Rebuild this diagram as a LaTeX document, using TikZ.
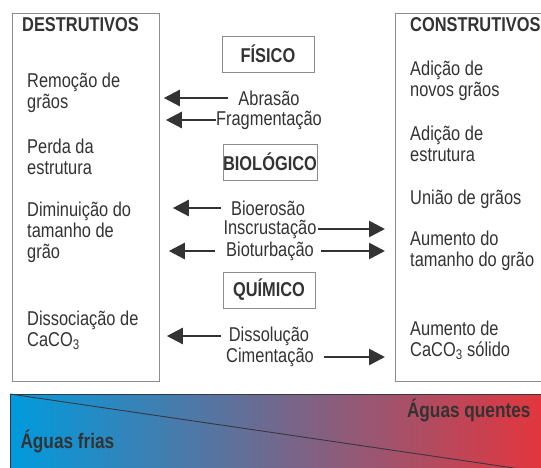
\documentclass[tikz,border=0pt]{standalone}
\usepackage{fontspec}
\setmainfont{Liberation Sans}[FakeStretch=0.82]
\usetikzlibrary{arrows.meta,positioning}
\definecolor{ink}{RGB}{51,51,51}
\definecolor{frame}{RGB}{140,140,140}
\definecolor{cold}{RGB}{0,155,222}
\definecolor{warm}{RGB}{234,50,56}
\definecolor{barline}{RGB}{55,55,65}

\tikzset{
  bigbox/.style={draw=frame,line width=0.8pt,inner sep=0pt},
  catbox/.style={draw=frame,line width=0.8pt,font=\fontsize{20}{21}\selectfont\bfseries,
    minimum width=92pt,minimum height=36pt,inner sep=0pt},
  txt/.style={align=left,anchor=west,inner sep=0pt},
  proc/.style={inner sep=0pt},
  arr/.style={draw=ink,line width=2.5pt,-{Triangle[length=16pt,width=16pt]}},
}

\begin{document}
\begin{tikzpicture}[x=1pt,y=-1pt,font=\fontsize{20}{21}\selectfont,text=ink]
\useasboundingbox (0,0) rectangle (541,468);
% the two columns
\node[bigbox,anchor=north west,minimum width=147pt,minimum height=368pt] (dest) at (12,13) {};
\node[bigbox,anchor=north west,minimum width=170pt,minimum height=368pt] (cons) at (395,13) {};
\node[txt,font=\fontsize{20}{21}\selectfont\bfseries] (desth) at (22,25) {DESTRUTIVOS};
\node[txt,font=\fontsize{20}{21}\selectfont\bfseries] (consh) at (410,25) {CONSTRUTIVOS};
\node[txt] (d1) at (27,93) {Remoção de\\grãos};
\node[txt] (d2) at (27,157) {Perda da\\estrutura};
\node[txt] (d3) at (27,232) {Diminuição do\\tamanho de\\grão};
\node[txt] (d4) at (27,330) {Dissociação de\\CaCO\textsubscript{3}};
\node[txt] (c1) at (410,81) {Adição de\\novos grãos};
\node[txt] (c2) at (410,144) {Adição de\\estrutura};
\node[txt] (c3) at (410,199) {União de grãos};
\node[txt] (c4) at (410,251) {Aumento do\\tamanho do grão};
\node[txt] (c5) at (410,340) {Aumento de\\CaCO\textsubscript{3} sólido};
% processes
\node[catbox] (fis) at (268,54) {FÍSICO};
\node[catbox] (bio) at (270,162) {BIOLÓGICO};
\node[catbox] (qui) at (269,290) {QUÍMICO};
\node[proc] (abr) at (269,98) {Abrasão};
\node[proc] (frag) at (269,120) {Fragmentação};
\node[proc] (bioe) at (268,208) {Bioerosão};
\node[proc] (insc) at (270,229) {Inscrustação};
\node[proc] (biot) at (270,251) {Bioturbação};
\node[proc] (diss) at (269,336) {Dissolução};
\node[proc] (cim) at (270,357) {Cimentação};
\foreach \n/\g/\s in {abr/10/4,frag/0/6,bioe/10/13,biot/11/9,diss/8/7}
  \draw[arr,shorten >=\s pt] ([xshift=-\g pt]\n.west) -- (\n.west -| dest.east);
\foreach \n/\g/\s in {insc/1/10,biot/7/10,cim/10/10}
  \draw[arr,shorten >=\s pt] ([xshift=\g pt]\n.east) -- (\n.east -| cons.west);
% temperature bar
\shade[left color=cold,right color=warm] (10,394) rectangle (560,480);
\draw[barline,line width=0.9pt] (10,480) -- (10,394) -- (560,394);
\draw[barline,line width=0.9pt] (10,394) -- (541,472);
\node[anchor=east,font=\fontsize{21}{22}\selectfont\bfseries] (quente) at (534,410) {Águas quentes};
\node[anchor=west,font=\fontsize{21}{22}\selectfont\bfseries] (fria) at (17,441) {Águas frias};
\end{tikzpicture}
\end{document}
